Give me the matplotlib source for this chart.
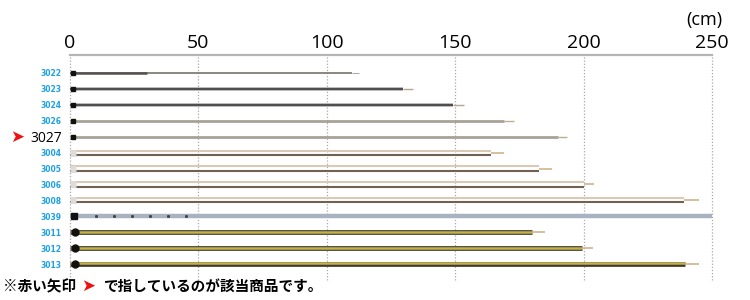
import matplotlib.pyplot as plt
import numpy as np

# rod models, top to bottom
models = ['3022', '3023', '3024', '3026', '3027', '3004', '3005',
          '3006', '3008', '3039', '3011', '3012', '3013']
# length of the main shaft and of the whole rod incl. tip (cm)
body_len = [110, 129.5, 149, 169, 190, 164, 182.5, 200, 239, 250, 180, 199.5, 239.5]
total_len = [112.5, 133.5, 153.5, 173, 193.5, 169, 187.5, 204, 245, 254.5, 185, 203.5, 245]
# finish of each rod
finish = ['grey', 'dark', 'dark', 'tan', 'tan', 'two', 'two',
          'two', 'two', 'blue', 'gold', 'gold', 'gold']
ticks = [0, 50, 100, 150, 200, 250]
selected = '3027'

tick_font = 'Open Sans'
blue = '#1ea0e6'

fig = plt.figure(figsize=(7.5, 3), dpi=100)
fig.patch.set_facecolor('white')
ax = fig.add_axes([70 / 750, 20 / 300, 642 / 750, 225 / 300])
ax.set_xlim(0, 250)
ax.set_ylim(13.0, -1.13)

ypos = np.arange(len(models))

for i, m in enumerate(models):
    y = ypos[i]
    b = body_len[i]
    t = total_len[i]
    f = finish[i]
    if f == 'grey':
        ax.plot([0, b], [y, y], color='#8a8680', lw=1.4, solid_capstyle='butt', zorder=3)
        ax.plot([0, 30], [y, y], color='#55524e', lw=1.8, solid_capstyle='butt', zorder=3)
        ax.plot([b, t], [y, y], color='#b0aba4', lw=0.8, solid_capstyle='butt', zorder=3)
    elif f == 'dark':
        ax.plot([0, b], [y, y], color='#c8c8c8', lw=2.8, solid_capstyle='butt', zorder=2)
        ax.plot([0, b], [y, y], color='#4f4f52', lw=1.6, solid_capstyle='butt', zorder=3)
        ax.plot([b, t], [y, y], color='#b7a58c', lw=1.0, solid_capstyle='butt', zorder=3)
    elif f == 'tan':
        ax.plot([0, b], [y, y], color='#a8a295', lw=2.0, solid_capstyle='butt', zorder=3)
        ax.plot([b, t], [y, y], color='#c0ae94', lw=1.0, solid_capstyle='butt', zorder=3)
    elif f == 'two':
        ax.plot([0, b], [y - 0.13, y - 0.13], color='#d8cab6', lw=1.5, solid_capstyle='butt', zorder=3)
        ax.plot([0, b], [y + 0.13, y + 0.13], color='#6f6254', lw=1.5, solid_capstyle='butt', zorder=3)
        ax.plot([b, t], [y, y], color='#d0b48c', lw=1.2, solid_capstyle='butt', zorder=3)
        ax.plot([0, 2.5], [y, y], color='#dcdcdc', lw=5, solid_capstyle='butt', zorder=3)
    elif f == 'blue':
        ax.plot([0, b], [y, y], color='#a7b3c0', lw=3.2, solid_capstyle='butt', zorder=3)
        ax.plot([b, t], [y, y], color='#b9c2cc', lw=1.0, solid_capstyle='butt', zorder=3)
        dots = np.arange(10, 50, 7)
        ax.plot(dots, [y] * len(dots), 's', color='#444444', ms=1.1, zorder=4)
        ax.plot([1.5], [y], 's', color='#111111', ms=5, zorder=4)
    elif f == 'gold':
        ax.plot([0, b], [y, y], color='#3f3a2c', lw=3.4, solid_capstyle='butt', zorder=3)
        ax.plot([0, b], [y - 0.04, y - 0.04], color='#c2b14e', lw=1.8, solid_capstyle='butt', zorder=3)
        ax.plot([b, t], [y, y], color='#d0b48c', lw=1.2, solid_capstyle='butt', zorder=3)
        ax.plot([1.8], [y], 'o', color='#111111', ms=5, zorder=4)
    if f in ('grey', 'dark', 'tan'):
        ax.plot([1.2], [y], 's', color='#111111', ms=3.5, zorder=4)

# axis styling
for s in ['left', 'right', 'bottom']:
    ax.spines[s].set_visible(False)
ax.spines['top'].set_color('#b5b5b5')
ax.spines['top'].set_linewidth(1.6)
ax.xaxis.tick_top()
ax.set_xticks(ticks)
ax.set_xticklabels([str(t) for t in ticks], fontsize=14, family=tick_font)
ax.tick_params(axis='x', length=0, pad=2)
ax.set_yticks(ypos)
ax.set_yticklabels(models, fontsize=5.5, fontweight='bold', color=blue)
ax.tick_params(axis='y', length=0, pad=6)
for lab in ax.get_yticklabels():
    if lab.get_text() == selected:
        lab.set_color('black')
        lab.set_fontsize(10)
        lab.set_fontweight('normal')
        lab.set_family(tick_font)
for t in ticks:
    ax.axvline(t, color='#a8a8a8', lw=0.9, ls=(0, (1, 1.5)), zorder=1, clip_on=False)

# red arrow pointing at the selected model
ax.text(-23.5, models.index(selected), '\u27a4', color='#ee1111', fontsize=12,
        va='center', ha='left', family='DejaVu Sans')

fig.text(722 / 750, 1 - 20 / 300, '(cm)', fontsize=13, family=tick_font,
         ha='right', va='center')

# footnote
jp = ['Noto Sans CJK JP', 'DejaVu Sans']
fig.text(3 / 750, 1 - 286 / 300, '※赤い矢印', fontsize=10.5, family=jp,
         va='center', ha='left', fontweight='bold')
fig.text(81 / 750, 1 - 286 / 300, '\u27a4', fontsize=12, color='#ee1111',
         family='DejaVu Sans', va='center', ha='left')
fig.text(104 / 750, 1 - 286 / 300, 'で指しているのが該当商品です。', fontsize=10.5,
         family=jp, va='center', ha='left', fontweight='bold')

fig.savefig('out.png', dpi=100)
